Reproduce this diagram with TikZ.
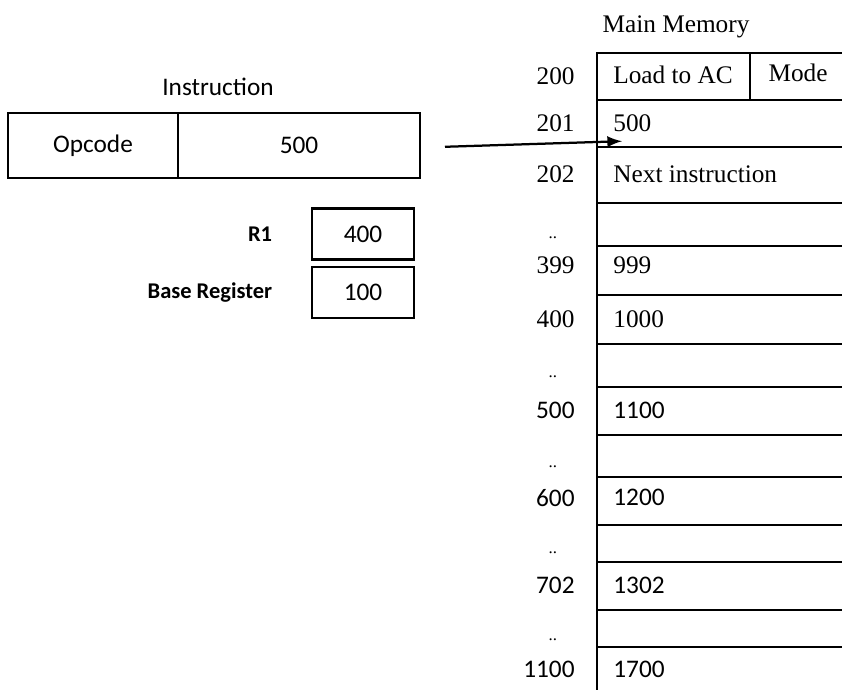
\documentclass[tikz,border=0pt]{standalone}
\usepackage{fontspec}
\setmainfont{Liberation Serif}
\newfontfamily\calfont{Carlito}
\usetikzlibrary{positioning}

\tikzset{
  cell/.style={draw, thick, minimum height=0.81cm, inner sep=0pt, font=\calfont\fontsize{9}{10}\selectfont},
  reg/.style={draw, thick, minimum width=1.275cm, minimum height=0.64cm, font=\calfont\fontsize{9}{10}\selectfont},
  reglbl/.style={font=\calfont\bfseries\fontsize{8}{9}\selectfont},
  memaddr/.style={anchor=east, inner sep=0pt, font=\fontsize{9}{10}\selectfont},
  memval/.style={anchor=west, inner sep=0pt, font=\fontsize{9}{10}\selectfont},
  memdots/.style={inner sep=0pt, font=\fontsize{6}{7}\selectfont},
}

\begin{document}
\begin{tikzpicture}[>=latex]
  \useasboundingbox (0,0) rectangle (10.525,8.625);

  % instruction
  \node[font=\calfont\fontsize{9}{10}\selectfont] (ititle) at (2.725,7.54) {Instruction};
  \node[cell, minimum width=2.125cm] (opc) at (1.1625,6.806) {Opcode};
  \node[cell, minimum width=3.025cm, right=-0.8pt of opc] (ofs) {500};

  % registers
  \node[reg] (r1) at (4.5375,5.7) {400};
  \node[reg] (base) at (4.5375,4.97) {100};
  \node[reglbl, left=0.36cm of r1] (r1lbl) {R1};
  \node[reglbl, left=0.36cm of base] (baselbl) {Base Register};

  % main memory
  \node[font=\fontsize{9}{10}\selectfont] (mmtitle) at (8.45,8.29) {Main Memory};
  \draw[thick] (10.525,7.9625) -- (7.4625,7.9625) -- (7.4625,0);
  \draw[thick] (9.375,7.9625) -- (9.375,7.375);
  \foreach \y in {7.375,6.7875,6.0875,5.55,4.9375,4.325,3.7875,3.1875,2.6625,2.0625,1.6,1.0,0.5375}
    \draw[thick] (7.4625,\y) -- (10.525,\y);

  \node[memaddr] (a200) at (7.19,7.67) {200};
  \node[memval] (v200) at (7.66,7.69) {Load to AC};
  \node[memval] (mode) at (9.6,7.71) {Mode};
  \foreach \y/\a/\v/\f in {
    7.08/201/500/\rmfamily,
    6.45/202/Next instruction/\rmfamily,
    5.31/399/999/\rmfamily,
    4.635/400/1000/\rmfamily,
    3.49/500/1100/\calfont,
    2.405/600/1200/\calfont,
    1.31/702/1302/\calfont,
    0.26/1100/1700/\calfont}
  {
    \node[memaddr] (a\a) at (7.19,\y) {\f\a};
    \node[memval] (v\a) at (7.66,\y) {\f\v};
  }
  \foreach \y [count=\i] in {5.65,3.91,2.79,1.71,0.625}
    \node[memdots] (d\i) at (6.91,\y) {..};

  % effective address arrow
  \coordinate (tail) at (5.5625,6.79);
  \coordinate (head) at (7.775,6.86);
  \draw[->, thick] (tail) -- (head);
\end{tikzpicture}
\end{document}
